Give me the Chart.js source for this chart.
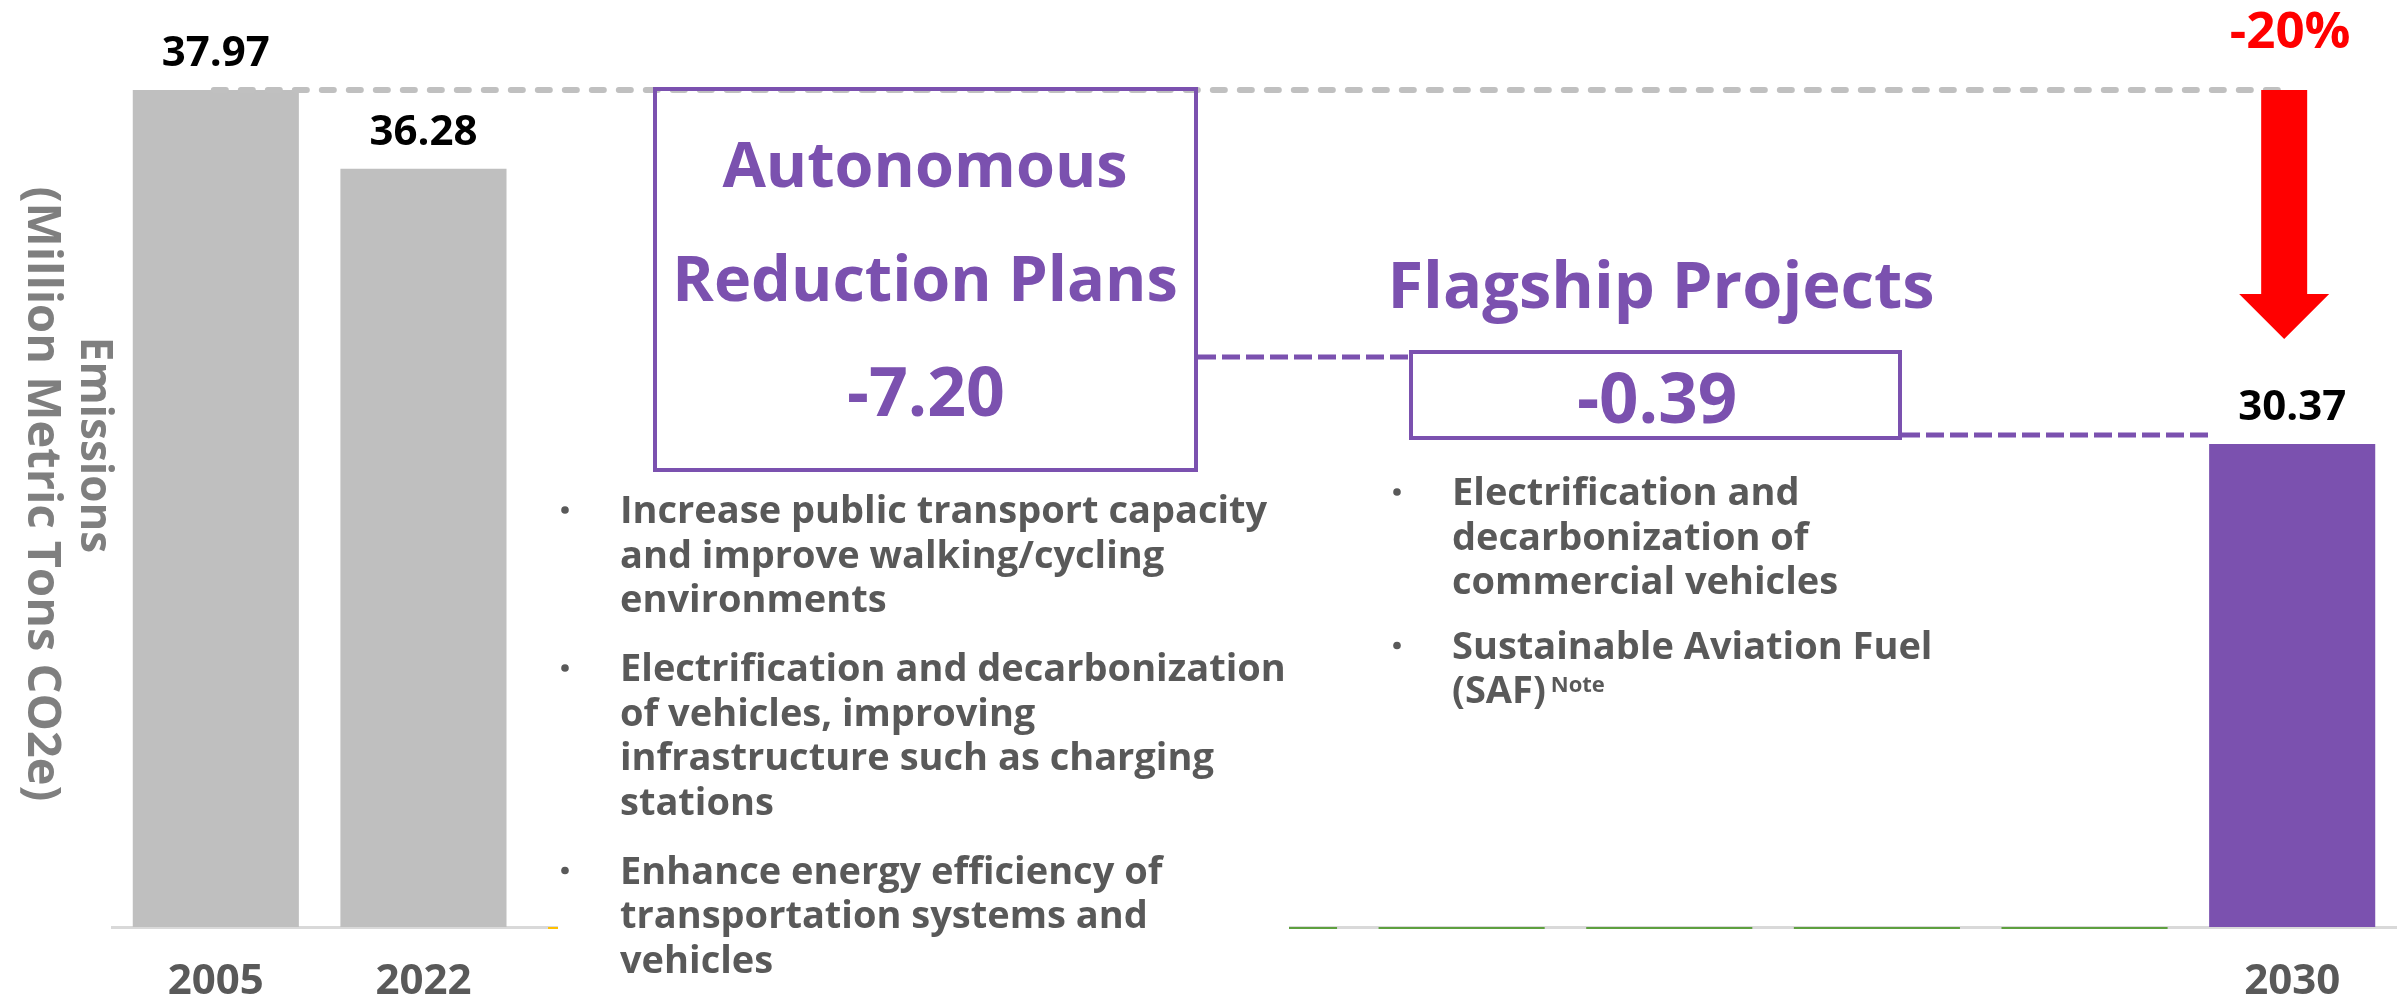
<!DOCTYPE html>
<html>
<head>
<meta charset="utf-8">
<script src="https://cdn.jsdelivr.net/npm/chart.js@4.4.1/dist/chart.umd.min.js"></script>
<style>
html,body{margin:0;padding:0;background:#fff;overflow:hidden}
#wrap{position:relative;width:2399px;height:1000px}
</style>
</head>
<body>
<div id="wrap"><canvas id="c" width="2399" height="1000"></canvas></div>
<script>
// ---------- data ----------
const categories = ['2005', '2022', '', '', '', '', '', '', '', '', '2030'];
const emissions = [37.97, 36.28, null, null, null, null, null, null, null, null, 30.37];
const emissionColors = ['#bfbfbf', '#bfbfbf', null, null, null, null, null, null, null, null, '#7b51af'];
// small baseline step markers (floating bars [from, to])
const stepMarkers = [null, null, [19.955, 20], [19.955, 20], [19.955, 20], [19.955, 20], [19.955, 20], [19.955, 20], [19.955, 20], [19.955, 20], null];
const stepMarkerColors = [null, null, '#ffc000', '#ffc000', '#ffc000', '#5ea03f', '#5ea03f', '#5ea03f', '#5ea03f', '#5ea03f', null];
const yTitleLines = ['Emissions', '(Million Metric Tons CO2e)'];
const reductionPct = '-20%';
const autonomousTitle = ['Autonomous', 'Reduction Plans'];
const autonomousValue = '-7.20';
const flagshipTitle = 'Flagship Projects';
const flagshipValue = '-0.39';
const autonomousBullets = [
  ['Increase public transport capacity', 'and improve walking/cycling', 'environments'],
  ['Electrification and decarbonization', 'of vehicles, improving', 'infrastructure such as charging', 'stations'],
  ['Enhance energy efficiency of', 'transportation systems and', 'vehicles']
];
const flagshipBullets = [
  ['Electrification and', 'decarbonization of', 'commercial vehicles'],
  ['Sustainable Aviation Fuel', '(SAF)']
];
const noteMark = 'Note';

// ---------- styling ----------
const FONT = "'Open Sans', 'Noto Sans', sans-serif";
const PURPLE = '#7b51af';
const TEXTGRAY = '#595959';

function txt(ctx, s, x, y, size, color, align) {
  ctx.font = 'bold ' + size + 'px ' + FONT;
  ctx.fillStyle = color;
  ctx.textAlign = align || 'center';
  ctx.textBaseline = 'alphabetic';
  ctx.fillText(s, x, y);
  return ctx.measureText(s).width;
}
function dashed(ctx, x0, y0, x1, y1, color, w, dash, cap) {
  ctx.save();
  ctx.strokeStyle = color; ctx.lineWidth = w; ctx.lineCap = cap || 'butt';
  ctx.setLineDash(dash);
  ctx.beginPath(); ctx.moveTo(x0, y0); ctx.lineTo(x1, y1); ctx.stroke();
  ctx.restore();
}
// returns {x, y, w} of the last drawn line
function bulletList(ctx, items, x, firstBaseline, lineH, itemStep, size) {
  let yb = firstBaseline, last = null;
  items.forEach(lines => {
    ctx.fillStyle = TEXTGRAY;
    ctx.beginPath(); ctx.arc(x, yb - 13, 3.8, 0, Math.PI * 2); ctx.fill();
    lines.forEach((l, i) => {
      const w = txt(ctx, l, x + 55, yb, size, TEXTGRAY, 'left');
      last = { x: x + 55, y: yb, w: w };
      if (i < lines.length - 1) yb += lineH;
    });
    yb += itemStep;
  });
  return last;
}

const annotations = {
  id: 'annotations',
  afterDatasetsDraw(chart) {
    const ctx = chart.ctx;
    const xs = chart.scales.x, ys = chart.scales.y;
    const meta = chart.getDatasetMeta(0);
    ctx.save();

    // white panel behind the left bullet list
    ctx.fillStyle = '#ffffff';
    ctx.fillRect(558, 478, 731, 515);

    // reference dashed line at 2005 level
    const yRef = ys.getPixelForValue(emissions[0]);
    const xLast = xs.getPixelForValue(categories.length - 1);
    dashed(ctx, xs.getPixelForValue(0) - 2, yRef, xLast - 10, yRef, '#c0c0c0', 6, [12, 15], 'round');

    // red arrow
    const cx = xLast - 8;
    ctx.fillStyle = '#ff0000';
    ctx.beginPath();
    ctx.moveTo(cx - 23, yRef); ctx.lineTo(cx + 23, yRef); ctx.lineTo(cx + 23, 294);
    ctx.lineTo(cx + 45, 294); ctx.lineTo(cx, 339); ctx.lineTo(cx - 45, 294);
    ctx.lineTo(cx - 23, 294); ctx.closePath(); ctx.fill();
    txt(ctx, reductionPct, cx + 6, 48, 51, '#ff0000');

    // value labels
    meta.data.forEach((bar, i) => {
      if (emissions[i] == null) return;
      txt(ctx, emissions[i].toFixed(2), bar.x, bar.y - 24, 42, '#000000');
    });

    // box 1
    ctx.strokeStyle = PURPLE; ctx.lineWidth = 4; ctx.setLineDash([]);
    ctx.strokeRect(655, 89, 541, 381);
    txt(ctx, autonomousTitle[0], 925, 187, 63, PURPLE);
    txt(ctx, autonomousTitle[1], 925, 301, 63, PURPLE);
    txt(ctx, autonomousValue, 926, 416, 68, PURPLE);

    // box 2
    ctx.strokeStyle = PURPLE; ctx.lineWidth = 4;
    ctx.strokeRect(1411, 352, 489, 86);
    txt(ctx, flagshipTitle, 1661, 308, 65, PURPLE);
    txt(ctx, flagshipValue, 1657, 423, 69, PURPLE);

    // connectors
    const bar2030 = meta.data[categories.length - 1];
    dashed(ctx, 1198, 357, 1409, 357, PURPLE, 5, [18, 6]);
    dashed(ctx, 1902, 435, bar2030.x - bar2030.width / 2, 435, PURPLE, 5, [18, 6]);

    // bullet lists
    bulletList(ctx, autonomousBullets, 565, 523, 44.5, 69, 38);
    const last = bulletList(ctx, flagshipBullets, 1397, 505, 44.5, 64.5, 38);
    txt(ctx, noteMark, last.x + last.w + 5, last.y - 11, 22, TEXTGRAY, 'left');

    // y axis title (rotated clockwise)
    ctx.fillStyle = '#7f7f7f';
    ctx.textAlign = 'center';
    ctx.textBaseline = 'middle';
    [[yTitleLines[0], 94, 445, 44], [yTitleLines[1], 41, 494, 47]].forEach(([s, tx, ty, fs]) => {
      ctx.font = 'bold ' + fs + 'px ' + FONT;
      ctx.save(); ctx.translate(tx, ty); ctx.rotate(Math.PI / 2); ctx.fillText(s, 0, 0); ctx.restore();
    });
    ctx.restore();
  }
};

new Chart(document.getElementById('c'), {
  type: 'bar',
  data: {
    labels: categories,
    datasets: [
      {
        label: 'Emissions',
        data: emissions,
        backgroundColor: emissionColors,
        barPercentage: 1,
        categoryPercentage: 0.8,
        grouped: false,
        order: 1
      },
      {
        label: 'Steps',
        data: stepMarkers,
        backgroundColor: stepMarkerColors,
        barPercentage: 1,
        categoryPercentage: 0.8,
        grouped: false,
        clip: false,
        order: 0
      }
    ]
  },
  options: {
    responsive: false,
    animation: false,
    devicePixelRatio: 1,
    layout: { padding: { left: 112, right: 3, top: 42, bottom: 0 } },
    plugins: { legend: { display: false }, tooltip: { enabled: false } },
    scales: {
      x: {
        grid: { display: false, drawTicks: false },
        border: { display: true, color: '#d9d9d9', width: 3 },
        ticks: { color: TEXTGRAY, font: { family: FONT, size: 42, weight: 'bold' }, padding: 30, maxRotation: 0, autoSkip: false },
        afterFit: s => { s.height = 73; }
      },
      y: { display: false, min: 20, max: 39 }
    }
  },
  plugins: [annotations]
});
</script>
</body>
</html>
